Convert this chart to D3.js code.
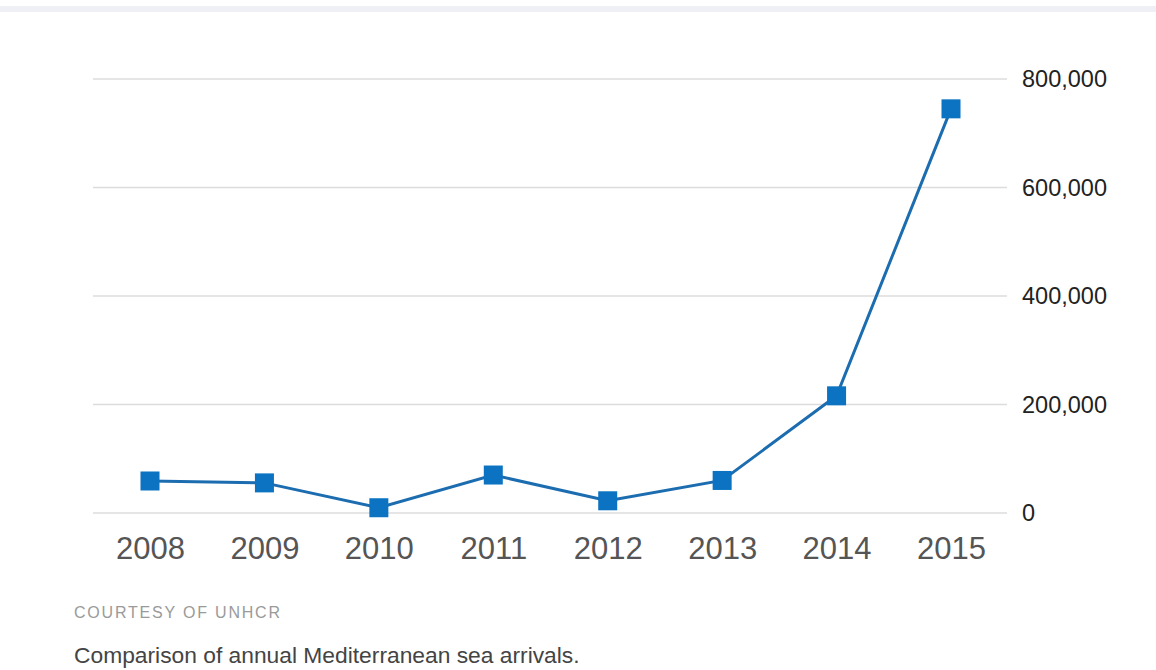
<!DOCTYPE html>
<html><head><meta charset="utf-8">
<script src="https://cdn.jsdelivr.net/npm/d3@7"></script>
<style>
html,body{margin:0;padding:0;background:#fff;}
svg{display:block;font-family:"Liberation Sans",Arial,sans-serif;}
</style></head>
<body>
<svg id="c" width="1156" height="670"></svg>
<script>
const years = ["2008","2009","2010","2011","2012","2013","2014","2015"];
const arrivals = [59000, 55500, 9700, 70000, 22500, 60000, 216000, 745000];
const yTicks = [0, 200000, 400000, 600000, 800000];
const source = "COURTESY OF UNHCR";
const caption = "Comparison of annual Mediterranean sea arrivals.";

const svg = d3.select("#c");
svg.append("rect").attr("x",0).attr("y",6).attr("width",1156).attr("height",6).attr("fill","#eff0f5");

const x = d3.scalePoint().domain(years).range([150, 951]);
const y = d3.scaleLinear().domain([0, 800000]).range([513, 79]);

// gridlines + y labels
const yAxis = d3.axisRight(y).tickValues(yTicks).tickSize(0).tickPadding(0)
  .tickFormat(d3.format(","));
const gy = svg.append("g").attr("transform","translate(1022,0)").call(yAxis);
gy.select(".domain").remove();
gy.selectAll("text").attr("font-size",23.5).attr("fill","#222").attr("x",0).attr("dy","0.32em")
  .style("font-family","'Liberation Sans',Arial,sans-serif");

svg.append("g").selectAll("line").data(yTicks).join("line")
  .attr("x1",93).attr("x2",1007)
  .attr("y1",d=>y(d)).attr("y2",d=>y(d))
  .attr("stroke","#dcdcdc").attr("stroke-width",1.5);

// x labels
const xAxis = d3.axisBottom(x).tickSize(0).tickPadding(0);
const gx = svg.append("g").attr("transform","translate(0,536)").call(xAxis);
gx.select(".domain").remove();
gx.selectAll("text").attr("font-size",31).attr("fill","#555").attr("dy","0.75em")
  .style("font-family","'Liberation Sans',Arial,sans-serif");

// line
const data = years.map((yr,i)=>({yr, v: arrivals[i]}));
svg.append("path").datum(data)
  .attr("fill","none").attr("stroke","#1c6cb0").attr("stroke-width",3)
  .attr("d", d3.line().x(d=>x(d.yr)).y(d=>y(d.v)));

const s = 19;
svg.append("g").selectAll("rect").data(data).join("rect")
  .attr("x",d=>x(d.yr)-s/2).attr("y",d=>y(d.v)-s/2)
  .attr("width",s).attr("height",s).attr("fill","#0b73c2");

svg.append("text").attr("x",74).attr("y",618).text(source)
  .attr("font-size",16).attr("letter-spacing",1.8).attr("fill","#9a9a9a");
svg.append("text").attr("x",74).attr("y",663).text(caption)
  .attr("font-size",22.8).attr("fill","#444");
</script>
</body></html>
